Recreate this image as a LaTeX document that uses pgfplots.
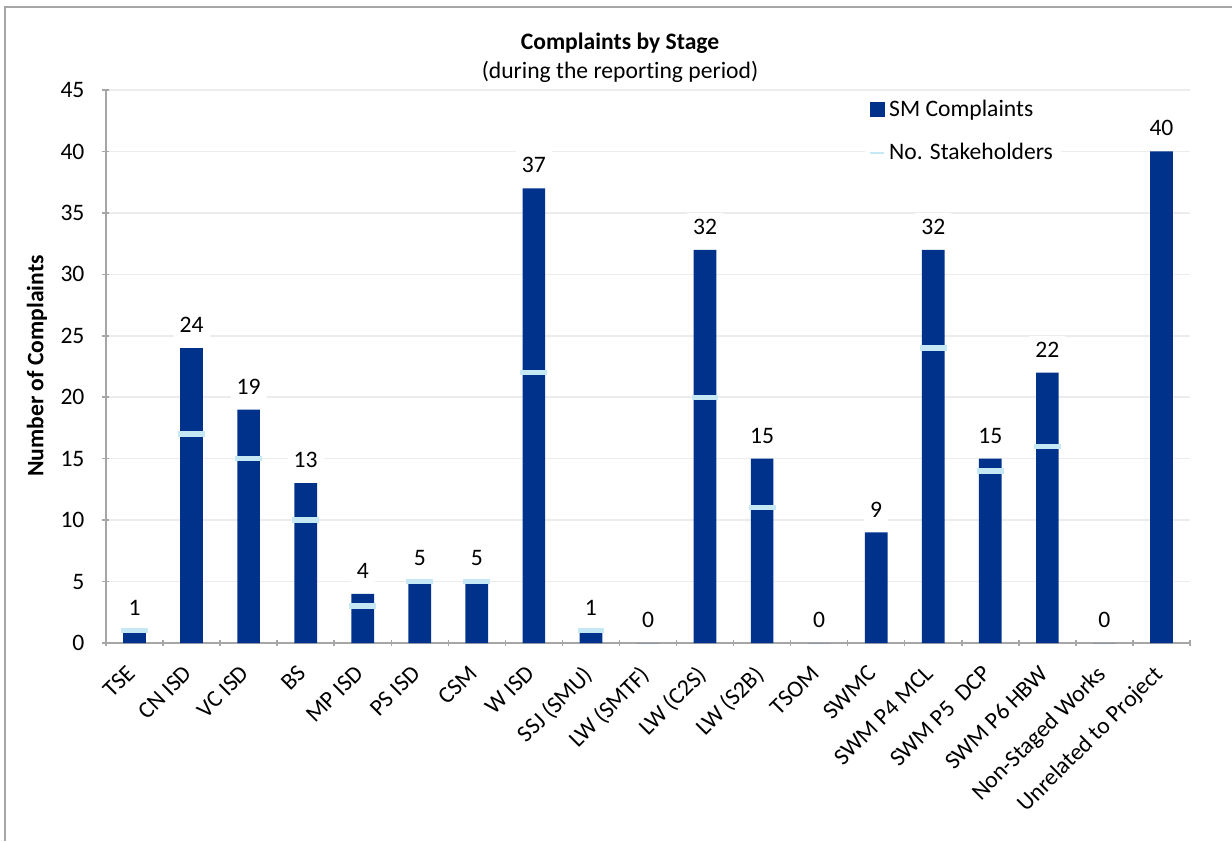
\documentclass[border=0pt]{standalone}
\usepackage{fontspec}
\setmainfont{Carlito}[Ligatures=NoCommon]
\usepackage{pgfplots}
\pgfplotsset{compat=1.18}
\definecolor{barblue}{RGB}{0,50,140}
\definecolor{stake}{RGB}{198,231,244}
\definecolor{axgray}{RGB}{166,166,166}
\definecolor{gridgray}{RGB}{236,236,236}
\newcommand{\chartfont}{\fontsize{11.8}{14}\selectfont}

\begin{document}
\begin{tikzpicture}
% picture is 616pt x 420.5pt (reference pixels / 2)
\useasboundingbox (0,0) rectangle (616pt,420.5pt);
\draw[axgray, line width=0.75pt] (2.5pt,0) -- (2.5pt,417pt) -- (616pt,417pt);
\node[font=\chartfont\bfseries] at (310pt,399pt) {Complaints by Stage};
\node[font=\chartfont] at (310pt,384.5pt) {(during the reporting period)};
\node[font=\chartfont\bfseries, rotate=90] at (18.5pt,237.5pt) {Number of Complaints};

\begin{axis}[
  at={(53pt,99pt)}, anchor=south west,
  width=542pt, height=276.5pt, scale only axis,
  xmin=-0.5, xmax=18.5, ymin=0, ymax=45,
  ytick={0,5,...,45},
  xtick={0,...,18},
  xticklabels={TSE, CN ISD, VC ISD, BS, MP ISD, PS ISD, CSM, W ISD, SSJ (SMU),
    LW (SMTF), LW (C2S), LW (S2B), TSOM, SWMC, SWM P4 MCL, SWM P5\ \ DCP,
    SWM P6 HBW, Non-Staged Works, Unrelated to Project},
  minor xtick={-0.5,0.5,...,18.5},
  major x tick style={draw=none},
  minor tick length=3pt, major tick length=3.5pt,
  tick align=outside,
  axis lines=left,
  axis line style={-, axgray, line width=0.75pt},
  tick style={axgray, line width=0.75pt},
  ymajorgrids, grid style={gridgray, line width=0.75pt},
  xticklabel style={rotate=45, anchor=north east, font=\chartfont, inner sep=1pt,
    xshift=-8.3pt, yshift=-1.8pt},
  yticklabel style={font=\chartfont, xshift=-5.5pt},
  /pgf/number format/assume math mode=true,
  legend style={at={(0.70,0.997)}, anchor=north west, draw=none, fill=white,
    font=\chartfont, row sep=8pt, inner sep=2pt},
  legend cell align=left,
]

% SM Complaints
\addplot[ybar, bar width=11.35pt, fill=barblue, draw=none,
  nodes near coords,
  every node near coord/.append style={font=\chartfont, fill=white, inner sep=3pt, yshift=4.5pt, text=black},
  legend image code/.code={\fill[barblue] (0pt,-3.75pt) rectangle (7.5pt,3.75pt);}]
  coordinates {
  (0,1) (1,24) (2,19) (3,13) (4,4) (5,5) (6,5) (7,37) (8,1) (9,0)
  (10,32) (11,15) (12,0) (13,9) (14,32) (15,15) (16,22) (17,0) (18,40)
  };
\addlegendentry{SM Complaints}

% No. Stakeholders
\addplot[only marks, mark=-, mark size=6.7pt, mark options={stake, line width=2.65pt},
  legend image code/.code={\draw[stake, line width=1pt] (0pt,0pt) -- (7pt,0pt);}]
  coordinates {
  (0,1) (1,17) (2,15) (3,10) (4,3) (5,5) (6,5) (7,22) (8,1)
  (10,20) (11,11) (14,24) (15,14) (16,16)
  };
\addlegendentry{No. Stakeholders}
\end{axis}
\end{tikzpicture}
\end{document}
